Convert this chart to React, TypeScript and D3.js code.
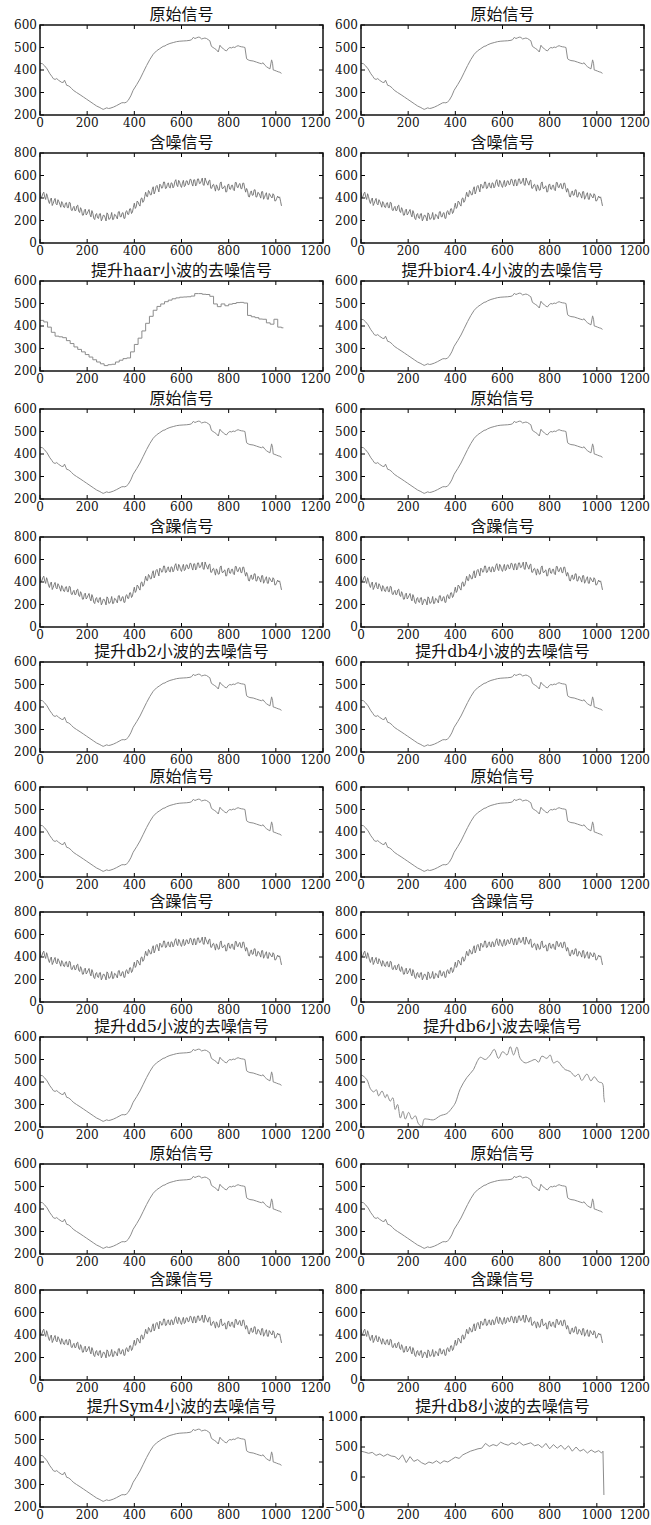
import React from 'react';
import * as d3 from 'd3';

// canvas
const width = 651;
const height = 1525;

// panel geometry
const colLeft = [40, 361];
const axW = 283;
const axH = 90;
const rowTops = [25, 153, 281, 409, 537, 662, 787, 912, 1037, 1164, 1290, 1417];

// shared x axis
const xDomain = [0, 1200];
const xTicks = [0, 200, 400, 600, 800, 1000, 1200];

// y ticks per kind of panel
const signalTicks = [200, 300, 400, 500, 600];
const noisyTicks = [0, 200, 400, 600, 800];
const db8Ticks = [-500, 0, 500, 1000];

// original signal [sample, value]
const original: [number, number][] = [
  [0, 430], [10, 428], [20, 418], [30, 405], [42, 383], [50, 372], [56, 362], [64, 358],
  [71, 362], [78, 355], [85, 350], [92, 345], [99, 345], [104, 355], [110, 340], [113, 332],
  [120, 330], [127, 325], [134, 318], [141, 310], [155, 300], [170, 290], [184, 280], [198, 270],
  [212, 260], [226, 250], [240, 240], [254, 233], [262, 228], [268, 225], [275, 228], [283, 232],
  [290, 229], [297, 230], [311, 235], [325, 242], [339, 250], [346, 254], [353, 255], [360, 254],
  [367, 258], [374, 265], [385, 285], [395, 310], [410, 335], [424, 360], [438, 390], [452, 420],
  [466, 447], [480, 470], [494, 485], [508, 495], [522, 505], [530, 507], [537, 512], [551, 518],
  [565, 522], [579, 526], [593, 528], [607, 529], [622, 530], [636, 532], [643, 535], [650, 545],
  [657, 540], [664, 543], [671, 546], [678, 545], [685, 538], [692, 540], [699, 542], [706, 540],
  [713, 535], [720, 530], [727, 505], [734, 500], [741, 495], [748, 490], [756, 480], [763, 510],
  [770, 500], [777, 495], [784, 488], [791, 485], [798, 495], [805, 500], [812, 498], [819, 502],
  [826, 500], [833, 505], [840, 508], [847, 505], [855, 503], [862, 502], [869, 500], [876, 450],
  [883, 445], [890, 442], [904, 440], [918, 435], [932, 430], [939, 428], [946, 432], [953, 422],
  [960, 415], [967, 410], [975, 405], [982, 445], [986, 430], [989, 400], [996, 398], [1003, 395],
  [1010, 392], [1017, 390], [1024, 385],
];

// noisy signal, one value every 4 samples
const noisyStep = 4;
const noisy = [
  452, 403, 410, 439, 452, 409, 387, 438, 412, 373, 351, 385, 400, 333, 352, 378,
  396, 348, 339, 385, 368, 346, 318, 368, 353, 320, 315, 354, 359, 315, 313, 362,
  357, 295, 287, 313, 326, 287, 290, 329, 337, 284, 271, 314, 296, 247, 248, 289,
  301, 249, 261, 282, 298, 254, 232, 288, 265, 220, 208, 251, 262, 224, 218, 258,
  262, 197, 215, 246, 246, 226, 196, 268, 257, 210, 214, 235, 271, 208, 211, 255,
  250, 232, 214, 276, 280, 234, 232, 265, 270, 219, 220, 279, 287, 255, 254, 303,
  305, 262, 276, 316, 354, 307, 322, 373, 364, 341, 328, 394, 401, 361, 372, 412,
  451, 415, 412, 467, 455, 428, 429, 477, 500, 436, 459, 502, 512, 483, 454, 523,
  514, 487, 492, 542, 542, 484, 488, 521, 535, 496, 488, 535, 531, 490, 505, 548,
  563, 516, 501, 557, 542, 510, 494, 532, 557, 501, 510, 552, 552, 518, 521, 566,
  565, 529, 506, 561, 562, 507, 519, 569, 570, 528, 531, 553, 577, 516, 512, 578,
  552, 532, 514, 553, 560, 487, 486, 515, 522, 493, 461, 517, 501, 469, 471, 532,
  543, 486, 484, 500, 508, 453, 456, 515, 525, 480, 477, 512, 514, 474, 465, 538,
  538, 496, 492, 522, 529, 484, 483, 532, 532, 487, 452, 485, 465, 413, 409, 448,
  463, 424, 426, 472, 473, 408, 411, 451, 443, 422, 399, 456, 457, 389, 406, 431,
  447, 390, 388, 440, 426, 410, 400, 438, 427, 373, 376, 398, 417, 401, 410, 371,
  330,
];

// lifting haar result, one step every 16 samples
const haarStep = 16;
const haar = [
  425, 418, 395, 372, 355, 352, 348, 335, 322, 307, 296, 285, 273, 262, 250, 240,
  232, 224, 228, 230, 240, 248, 255, 258, 285, 318, 346, 378, 412, 443, 470, 487,
  498, 508, 515, 521, 525, 528, 529, 530, 533, 544, 544, 541, 540, 532, 498, 486,
  498, 490, 497, 500, 504, 505, 502, 447, 441, 437, 431, 430, 414, 408, 430, 395,
  392,
];

// lifting db6 result [sample, value]
const db6: [number, number][] = [
  [0, 430], [4, 430], [25, 410], [40, 370], [54, 356], [65, 366], [75, 338], [89, 360],
  [103, 330], [110, 345], [124, 315], [135, 330], [145, 278], [155, 300], [167, 240], [178, 270],
  [188, 235], [202, 265], [216, 235], [230, 250], [244, 214], [258, 203], [268, 235], [282, 235],
  [308, 232], [336, 250], [364, 260], [386, 285], [400, 307], [421, 370], [449, 420], [477, 455],
  [492, 490], [506, 510], [527, 500], [548, 520], [565, 545], [583, 505], [601, 535], [619, 520],
  [633, 557], [647, 520], [661, 555], [675, 505], [696, 485], [718, 492], [739, 500], [753, 488],
  [767, 515], [788, 505], [802, 520], [816, 485], [833, 492], [852, 470], [866, 455], [887, 447],
  [908, 425], [922, 435], [936, 407], [958, 435], [975, 405], [989, 423], [1008, 400], [1023, 395],
  [1030, 330], [1033, 310],
];

// lifting db8 result [sample, value]
const db8: [number, number][] = [
  [0, 430], [16, 415], [32, 395], [48, 410], [64, 360], [80, 385], [96, 345], [112, 380],
  [128, 350], [144, 340], [160, 290], [176, 370], [192, 240], [208, 340], [224, 260], [240, 290],
  [256, 240], [272, 210], [288, 250], [304, 230], [320, 270], [336, 225], [352, 270], [368, 250],
  [384, 290], [400, 330], [416, 310], [432, 370], [448, 400], [464, 430], [480, 450], [496, 470],
  [512, 480], [528, 560], [544, 510], [560, 540], [576, 520], [592, 580], [608, 550], [624, 530],
  [640, 570], [656, 540], [672, 580], [688, 530], [704, 550], [720, 570], [736, 520], [752, 540],
  [768, 490], [784, 560], [800, 470], [816, 540], [832, 480], [848, 530], [864, 460], [880, 520],
  [896, 430], [912, 500], [928, 430], [944, 460], [960, 400], [976, 450], [992, 410], [1008, 440],
  [1020, 400], [1026, 430], [1030, -300],
];

// titles, row by row, left then right
const titles = [
  '原始信号', '原始信号',
  '含噪信号', '含噪信号',
  '提升haar小波的去噪信号', '提升bior4.4小波的去噪信号',
  '原始信号', '原始信号',
  '含躁信号', '含躁信号',
  '提升db2小波的去噪信号', '提升db4小波的去噪信号',
  '原始信号', '原始信号',
  '含躁信号', '含躁信号',
  '提升dd5小波的去噪信号', '提升db6小波去噪信号',
  '原始信号', '原始信号',
  '含躁信号', '含躁信号',
  '提升Sym4小波的去噪信号', '提升db8小波的去噪信号',
];

const noisyPts: [number, number][] = noisy.map((v, i) => [i * noisyStep, v]);
const haarPts: [number, number][] = haar.map((v, i) => [i * haarStep, v]);
haarPts.push([1032, haar[haar.length - 1]]);

const lineColor = '#8c8c8c';
const noisyColor = '#6e6e6e';
const tickFont = "'DejaVu Serif', serif";
const titleFont = "'DejaVu Serif', 'Noto Sans CJK SC', sans-serif";

type PanelSpec = {
  data: [number, number][];
  ticks: number[];
  curve: d3.CurveFactory;
  color: string;
};

function spec(row: number, col: number): PanelSpec {
  const kind = row % 3;
  const group = Math.floor(row / 3);
  if (kind === 0) return { data: original, ticks: signalTicks, curve: d3.curveLinear, color: lineColor };
  if (kind === 1) return { data: noisyPts, ticks: noisyTicks, curve: d3.curveLinear, color: noisyColor };
  if (group === 0 && col === 0) return { data: haarPts, ticks: signalTicks, curve: d3.curveStepAfter, color: lineColor };
  if (group === 2 && col === 1) return { data: db6, ticks: signalTicks, curve: d3.curveCatmullRom, color: lineColor };
  if (group === 3 && col === 1) return { data: db8, ticks: db8Ticks, curve: d3.curveLinear, color: lineColor };
  return { data: original, ticks: signalTicks, curve: d3.curveLinear, color: lineColor };
}

const Panel = ({ row, col }: { row: number; col: number }) => {
  const x0 = colLeft[col];
  const y0 = rowTops[row];
  const s = spec(row, col);
  const yDomain = [s.ticks[0], s.ticks[s.ticks.length - 1]];
  const x = d3.scaleLinear().domain(xDomain).range([x0, x0 + axW]);
  const y = d3.scaleLinear().domain(yDomain).range([y0 + axH, y0]);
  const line = d3
    .line<[number, number]>()
    .x((d) => x(d[0]))
    .y((d) => y(d[1]))
    .curve(s.curve);
  const clipId = `clip-${row}-${col}`;
  const lastTick = xTicks[xTicks.length - 1];
  return (
    <g>
      <clipPath id={clipId}>
        <rect x={x0} y={y0} width={axW} height={axH} />
      </clipPath>
      <path
        d={line(s.data) || ''}
        fill="none"
        stroke={s.color}
        strokeWidth={s.color === noisyColor ? 0.9 : 1}
        clipPath={`url(#${clipId})`}
      />
      {xTicks.map((t) => (
        <g key={'x' + t}>
          <line x1={x(t)} x2={x(t)} y1={y0 + axH} y2={y0 + axH - 4} stroke="#000" />
          <line x1={x(t)} x2={x(t)} y1={y0} y2={y0 + 4} stroke="#000" />
          <text
            x={t === lastTick ? Math.min(x(t) + 8, width - 1) : x(t)}
            y={y0 + axH + 12}
            textAnchor={t === lastTick ? 'end' : 'middle'}
            fontFamily={tickFont}
            fontSize={12}
            fill="#111"
          >
            {t}
          </text>
        </g>
      ))}
      {s.ticks.map((t) => (
        <g key={'y' + t}>
          <line x1={x0} x2={x0 + 4} y1={y(t)} y2={y(t)} stroke="#000" />
          <line x1={x0 + axW} x2={x0 + axW - 4} y1={y(t)} y2={y(t)} stroke="#000" />
          <text x={x0 - 3} y={y(t)} dy="0.35em" textAnchor="end" fontFamily={tickFont} fontSize={12} fill="#111">
            {String(t).replace('-', '\u2212')}
          </text>
        </g>
      ))}
      <rect x={x0} y={y0} width={axW} height={axH} fill="none" stroke="#111" strokeWidth={1.5} />
      <text x={x0 + axW / 2} y={y0 - 5} textAnchor="middle" fontFamily={titleFont} fontSize={16} fill="#111">
        {titles[row * 2 + col]}
      </text>
    </g>
  );
};

export default function App() {
  return (
    <svg width={width} height={height} style={{ display: 'block', position: 'absolute', left: 0, top: 0, background: '#fff' }}>
      <rect width={width} height={height} fill="#fff" />
      {rowTops.map((_, r) => [0, 1].map((c) => <Panel key={`${r}-${c}`} row={r} col={c} />))}
    </svg>
  );
}
